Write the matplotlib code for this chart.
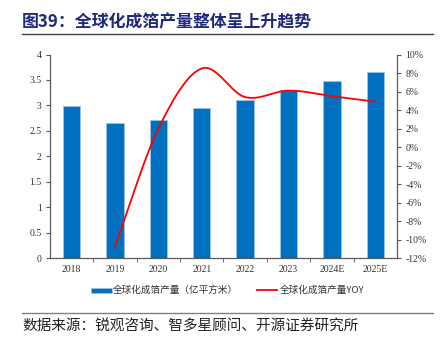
import numpy as np
import matplotlib
matplotlib.use("Agg")
import matplotlib.pyplot as plt
from matplotlib.lines import Line2D
from matplotlib.patches import Rectangle

years = ["2018", "2019", "2020", "2021", "2022", "2023", "2024E", "2025E"]
output = [2.98, 2.66, 2.71, 2.95, 3.11, 3.30, 3.48, 3.65]
yoy = [np.nan, -10.7, 2.0, 8.5, 5.4, 6.1, 5.5, 4.9]
left_ticks = [0, 0.5, 1, 1.5, 2, 2.5, 3, 3.5, 4]
left_labels = ["0", "0.5", "1", "1.5", "2", "2.5", "3", "3.5", "4"]
right_ticks = list(range(-12, 11, 2))

CJK = ["Noto Sans CJK SC", "DejaVu Sans"]
SERIF = ["Liberation Serif", "DejaVu Serif"]
W, H = 445, 341

fig = plt.figure(figsize=(4.45, 3.41), dpi=100)
ax = fig.add_axes([0.1124, 0.2434, 0.892 - 0.1124, 0.840 - 0.2434])
ax2 = ax.twinx()

x = np.arange(len(years))
ax.bar(x, output, width=0.4, color="#0070C0", edgecolor="#9DC3E6", linewidth=0.6, zorder=2)
ax.set_xlim(-0.5, len(years) - 0.5)
ax.set_ylim(0, 4)
ax.set_yticks(left_ticks)
ax.set_yticklabels(left_labels, fontfamily=SERIF, fontsize=7)
ax.set_xticks(x)
ax.set_xticklabels(years, fontfamily=SERIF, fontsize=7)
ax.set_xticks(np.arange(-0.5, len(years), 1)[1:-1], minor=True)
ax.tick_params(axis="x", which="major", length=0, pad=5)
ax.tick_params(axis="x", which="minor", length=3, color="#595959", direction="out")
ax.tick_params(axis="y", length=3, color="#595959", pad=3)

# smoothed (Catmull-Rom style) rendering of the YOY line
px = x[1:].astype(float)
py = np.array(yoy[1:], dtype=float)
P = np.column_stack([px, py])
Pext = np.vstack([P[0] - (P[1] - P[0]), P, P[-1] + (P[-1] - P[-2])])
curve = []
for i in range(1, len(Pext) - 2):
    p0, p1, p2, p3 = Pext[i - 1], Pext[i], Pext[i + 1], Pext[i + 2]
    c1 = p1 + (p2 - p0) / 6.0
    c2 = p2 - (p3 - p1) / 6.0
    t = np.linspace(0, 1, 40)[:, None]
    seg = (1 - t) ** 3 * p1 + 3 * (1 - t) ** 2 * t * c1 + 3 * (1 - t) * t ** 2 * c2 + t ** 3 * p2
    curve.append(seg if i == 1 else seg[1:])
curve = np.vstack(curve)
ax2.plot(curve[:, 0], curve[:, 1], color="#FF0000", linewidth=1.3, zorder=3)
ax2.set_ylim(-12, 10)
ax2.set_yticks(right_ticks)
ax2.set_yticklabels([f"{t}%" for t in right_ticks], fontfamily=SERIF, fontsize=7)
ax2.tick_params(axis="y", length=3, color="#595959", pad=3)

for a in (ax, ax2):
    a.spines["top"].set_visible(False)
    for s in ("left", "right", "bottom"):
        a.spines[s].set_color("#595959")
        a.spines[s].set_linewidth(0.8)
    a.tick_params(labelcolor="#333333")

# Title and rules
fig.text(22 / W, 1 - 22 / H, "图39：全球化成箔产量整体呈上升趋势", fontfamily=CJK, fontsize=12.2,
         fontweight="bold", color="#1F2A7C", va="center", ha="left")
fig.add_artist(Line2D([22 / W, 433 / W], [1 - 34 / H, 1 - 34 / H], color="#404040", linewidth=1.0))
fig.add_artist(Line2D([22 / W, 433 / W], [1 - 313 / H, 1 - 313 / H], color="#808080", linewidth=1.0))
fig.text(22 / W, 1 - 326 / H, "数据来源：锐观咨询、智多星顾问、开源证券研究所", fontfamily=CJK, fontsize=10.5,
         color="#222222", va="center", ha="left")

# Legend (manual)
ly = 1 - 290 / H
fig.add_artist(Rectangle((91 / W, ly - 2.5 / H), 20.5 / W, 5 / H, facecolor="#0070C0",
                         edgecolor="#9DC3E6", linewidth=0.5, transform=fig.transFigure))
fig.text(113 / W, ly, "全球化成箔产量（亿平方米）", fontfamily=CJK, fontsize=6.9,
         color="#333333", va="center", ha="left")
fig.add_artist(Line2D([257 / W, 277 / W], [ly, ly], color="#FF0000", linewidth=1.3))
fig.text(280 / W, ly, "全球化成箔产量YOY", fontfamily=CJK, fontsize=6.9,
         color="#333333", va="center", ha="left")

fig.savefig("out.png", dpi=100)
